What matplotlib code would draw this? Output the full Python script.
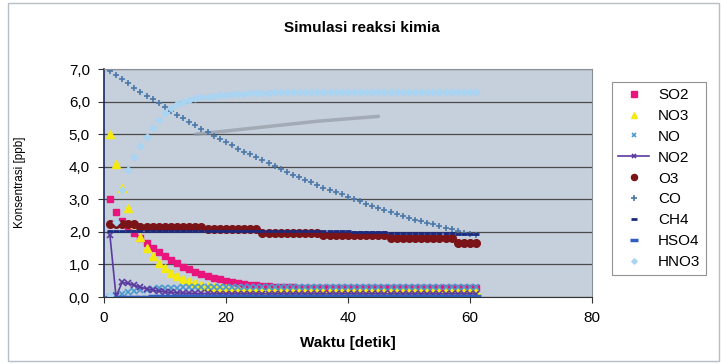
import matplotlib
matplotlib.use("Agg")
import matplotlib.pyplot as plt
from matplotlib.patches import Rectangle

plt.rcParams['font.family'] = ['Liberation Sans', 'DejaVu Sans']

time = list(range(1, 62))

so2 = [3.00, 2.60, 2.35, 2.15, 1.97, 1.80, 1.65, 1.50, 1.37, 1.25,
       1.13, 1.03, 0.93, 0.85, 0.77, 0.70, 0.64, 0.59, 0.54, 0.50,
       0.46, 0.43, 0.40, 0.38, 0.36, 0.34, 0.33, 0.32, 0.31, 0.30,
       0.30, 0.29, 0.29, 0.29, 0.28, 0.28, 0.28, 0.28, 0.28, 0.28,
       0.28, 0.28, 0.28, 0.28, 0.28, 0.28, 0.28, 0.28, 0.28, 0.28,
       0.28, 0.28, 0.28, 0.28, 0.28, 0.28, 0.28, 0.28, 0.28, 0.28, 0.28]
no3 = [5.00, 4.10, 3.35, 2.75, 2.25, 1.85, 1.52, 1.26, 1.05, 0.88,
       0.74, 0.64, 0.55, 0.48, 0.42, 0.38, 0.34, 0.31, 0.29, 0.27,
       0.25, 0.24, 0.23, 0.22, 0.22, 0.21, 0.21, 0.21, 0.20, 0.20,
       0.20, 0.20, 0.20, 0.20, 0.20, 0.20, 0.20, 0.20, 0.20, 0.20,
       0.20, 0.20, 0.20, 0.20, 0.20, 0.20, 0.20, 0.20, 0.20, 0.20,
       0.20, 0.20, 0.20, 0.20, 0.20, 0.20, 0.20, 0.20, 0.20, 0.20, 0.20]
no = [0.00, 0.05, 0.10, 0.14, 0.18, 0.21, 0.23, 0.25, 0.27, 0.28,
      0.29, 0.29, 0.30, 0.30, 0.30, 0.30, 0.30, 0.30, 0.30, 0.30,
      0.30, 0.30, 0.30, 0.30, 0.30, 0.30, 0.30, 0.30, 0.30, 0.30,
      0.30, 0.30, 0.30, 0.30, 0.30, 0.30, 0.30, 0.30, 0.30, 0.30,
      0.30, 0.30, 0.30, 0.30, 0.30, 0.30, 0.30, 0.30, 0.30, 0.30,
      0.30, 0.30, 0.30, 0.30, 0.30, 0.30, 0.30, 0.30, 0.30, 0.30, 0.30]
no2 = [1.90, 0.02, 0.45, 0.42, 0.36, 0.30, 0.25, 0.21, 0.18, 0.16,
       0.14, 0.13, 0.12, 0.12, 0.11, 0.11, 0.11, 0.10, 0.10, 0.10,
       0.10, 0.10, 0.10, 0.10, 0.10, 0.10, 0.10, 0.10, 0.10, 0.10,
       0.10, 0.10, 0.10, 0.10, 0.10, 0.10, 0.10, 0.10, 0.10, 0.10,
       0.10, 0.10, 0.10, 0.10, 0.10, 0.10, 0.10, 0.10, 0.10, 0.10,
       0.10, 0.10, 0.10, 0.10, 0.10, 0.10, 0.10, 0.10, 0.10, 0.10, 0.10]
o3 = [2.25, 2.25, 2.25, 2.25, 2.25, 2.15, 2.15, 2.15, 2.15, 2.15,
      2.15, 2.15, 2.15, 2.15, 2.15, 2.15, 2.08, 2.08, 2.08, 2.08,
      2.08, 2.08, 2.08, 2.08, 2.08, 1.98, 1.98, 1.98, 1.98, 1.98,
      1.98, 1.98, 1.98, 1.98, 1.98, 1.90, 1.90, 1.90, 1.90, 1.90,
      1.90, 1.90, 1.90, 1.90, 1.90, 1.90, 1.80, 1.80, 1.80, 1.80,
      1.80, 1.80, 1.80, 1.80, 1.80, 1.80, 1.80, 1.65, 1.65, 1.65, 1.65]
co = [6.95, 6.82, 6.69, 6.56, 6.43, 6.31, 6.19, 6.07, 5.95, 5.83,
      5.71, 5.60, 5.49, 5.38, 5.27, 5.16, 5.06, 4.96, 4.86, 4.76,
      4.66, 4.56, 4.47, 4.38, 4.29, 4.20, 4.11, 4.02, 3.93, 3.84,
      3.76, 3.68, 3.60, 3.52, 3.44, 3.36, 3.29, 3.22, 3.15, 3.08,
      3.01, 2.94, 2.87, 2.80, 2.74, 2.68, 2.62, 2.56, 2.50, 2.44,
      2.38, 2.33, 2.28, 2.23, 2.18, 2.13, 2.08, 2.03, 1.98, 1.94, 1.90]
ch4 = [2.03, 2.03, 2.03, 2.03, 2.03, 2.03, 2.03, 2.03, 2.03, 2.03,
       2.03, 2.03, 2.03, 2.03, 2.03, 2.03, 2.03, 2.03, 2.03, 2.03,
       2.03, 2.03, 2.03, 2.03, 2.03, 2.03, 2.03, 2.03, 2.03, 2.03,
       2.03, 2.03, 2.03, 2.03, 2.03, 2.03, 2.03, 2.03, 2.03, 2.03,
       2.00, 2.00, 2.00, 2.00, 2.00, 2.00, 1.98, 1.98, 1.98, 1.98,
       1.98, 1.98, 1.97, 1.97, 1.97, 1.96, 1.96, 1.95, 1.95, 1.95, 1.95]
hso4 = [0.00, 0.00, 0.00, 0.01, 0.01, 0.01, 0.01, 0.02, 0.02, 0.02,
        0.02, 0.02, 0.03, 0.03, 0.03, 0.03, 0.03, 0.03, 0.03, 0.03,
        0.03, 0.03, 0.03, 0.03, 0.03, 0.03, 0.03, 0.03, 0.03, 0.03,
        0.03, 0.03, 0.03, 0.03, 0.03, 0.03, 0.03, 0.03, 0.03, 0.03,
        0.03, 0.03, 0.03, 0.03, 0.03, 0.03, 0.03, 0.03, 0.03, 0.03,
        0.03, 0.03, 0.03, 0.03, 0.03, 0.03, 0.03, 0.03, 0.03, 0.03, 0.03]
hno3 = [0.05, 2.30, 3.30, 3.90, 4.30, 4.65, 4.92, 5.20, 5.45, 5.65,
        5.80, 5.92, 6.00, 6.06, 6.10, 6.13, 6.16, 6.18, 6.20, 6.22,
        6.23, 6.24, 6.25, 6.26, 6.27, 6.28, 6.28, 6.29, 6.29, 6.30,
        6.30, 6.30, 6.30, 6.30, 6.30, 6.30, 6.30, 6.30, 6.30, 6.30,
        6.30, 6.30, 6.30, 6.30, 6.30, 6.30, 6.30, 6.30, 6.30, 6.30,
        6.30, 6.30, 6.30, 6.30, 6.30, 6.30, 6.30, 6.30, 6.30, 6.30, 6.30]

# faint grey streak visible in the plot area
streak_x = [15, 25, 35, 45]
streak_y = [5.00, 5.20, 5.40, 5.55]

x_ticks = [0, 20, 40, 60, 80]
y_ticks = [0, 1, 2, 3, 4, 5, 6, 7]
y_ticklabels = ["0,0", "1,0", "2,0", "3,0", "4,0", "5,0", "6,0", "7,0"]

fig = plt.figure(figsize=(7.21, 3.64), dpi=100)
fig.patch.set_facecolor("white")
fig.patches.append(Rectangle((0.011, 0.008), 0.986, 0.984, transform=fig.transFigure,
                             fill=False, edgecolor="#b8bec8", linewidth=1.0))
ax = fig.add_axes([0.144, 0.184, 0.677, 0.626])
ax.set_facecolor("#c6cfdc")

ax.plot(streak_x, streak_y, color="#969ea9", linewidth=2.5, alpha=0.75, solid_capstyle="round")

ax.plot(time, so2, linestyle="none", marker="s", markersize=5, color="#e8157d", label="SO2")
ax.plot(time, no3, linestyle="none", marker="^", markersize=5.5, color="#f4ea10", label="NO3")
ax.plot(time, no, linestyle="none", marker="x", markersize=4, markeredgewidth=1.2, color="#4a9ad0", label="NO")
ax.plot(time, no2, linestyle="-", linewidth=1.2, marker="x", markersize=4, markeredgewidth=1.2,
        color="#5a3aa0", label="NO2")
ax.plot(time, o3, linestyle="none", marker="o", markersize=5.5, color="#7a1418", label="O3")
ax.plot(time, co, linestyle="none", marker="+", markersize=5, markeredgewidth=1.2, color="#4a78a8", label="CO")
ax.plot(time, ch4, linestyle="none", marker="_", markersize=5, markeredgewidth=2, color="#1a2a80", label="CH4")
ax.plot(time, hso4, linestyle="none", marker="_", markersize=7, markeredgewidth=2.5, color="#2f5fc0", label="HSO4")
ax.plot(time, hno3, linestyle="none", marker="D", markersize=3.5, color="#a9d4f2", label="HNO3")

ax.set_xlim(0, 80)
ax.set_ylim(0, 7)
ax.set_xticks(x_ticks)
ax.set_yticks(y_ticks)
ax.set_yticklabels(y_ticklabels)
ax.tick_params(axis="both", labelsize=11, direction="out", length=4, color="#333333", pad=6)
ax.yaxis.grid(True, color="#4a4a4a", linewidth=0.9)
ax.set_axisbelow(True)
for side in ["top", "right"]:
    ax.spines[side].set_color("#8a8f98")
    ax.spines[side].set_linewidth(0.8)
ax.spines["left"].set_color("#1a2a60")
ax.spines["left"].set_linewidth(1.2)
ax.spines["bottom"].set_color("#333333")

ax.set_xlabel("Waktu [detik]", fontsize=11, fontweight="bold", labelpad=8)
fig.text(0.028, 0.50, "Konsentrasi [ppb]", rotation=90, fontsize=8.5, ha="center", va="center")
fig.text(0.502, 0.922, "Simulasi reaksi kimia", fontsize=11, fontweight="bold", ha="center", va="center")

leg = fig.legend(loc="upper left", bbox_to_anchor=(0.849, 0.775), fontsize=11, markerscale=0.8,
                 frameon=True, fancybox=False, edgecolor="#777777", labelspacing=0.45,
                 handlelength=2.0, handletextpad=0.6, borderpad=0.4, borderaxespad=0)
leg.get_frame().set_linewidth(0.8)

fig.savefig("out.png", dpi=100)
